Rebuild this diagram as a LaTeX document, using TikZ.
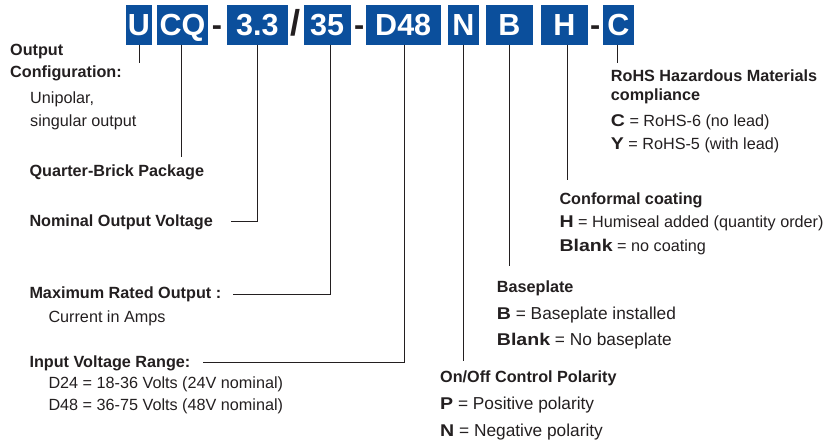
\documentclass[tikz,border=0pt]{standalone}
\usepackage{fontspec}
\setmainfont{Liberation Sans}
\newfontfamily\keyfont{Liberation Sans}[FakeStretch=1.15]
\usepackage{tikz}

\definecolor{codeblue}{HTML}{0B4F9C}
\definecolor{inktext}{HTML}{231F20}
\newcommand\optkey[1]{{\keyfont\bfseries\fontsize{17}{19}\selectfont #1}}
\tikzset{
	codebox/.style={fill=codeblue, text=white, font=\fontsize{30.5}{36}\selectfont\bfseries, inner sep=0pt, minimum height=39.2pt, text height=22pt, text depth=0pt},
	joiner/.style={text=inktext, font=\fontsize{30.5}{36}\selectfont\bfseries, inner sep=0pt, anchor=base},
	heading/.style={text=inktext, font=\fontsize{16.2}{19}\selectfont\bfseries, inner sep=0pt, anchor=base west},
	entry/.style={text=inktext, inner sep=0pt, anchor=base west},
	bigentry/.style={entry, font=\fontsize{17.3}{20}\selectfont},
	leader/.style={draw=inktext, line width=0.9pt}
}

\begin{document}
\begin{tikzpicture}[x=1pt, y=-1pt, font=\fontsize{16.2}{19}\selectfont]
		\useasboundingbox (0,0) rectangle (829,442);
		
		% Code boxes
		\foreach \name/\x/\w/\code in {bu/139/26.6/U, bcq/182.5/50.4/CQ, b33/257.3/60.7/3.3, b35/327.2/47/35, bd48/403.2/75/D48, bn/463.5/31.6/N, bb/509.3/46.7/B, bh/564.5/46.4/H, bc/618.5/30.4/C}
			\node[codebox, minimum width=\w] (\name) at (\x, 24.9) {\code};
		\node[joiner] (dash1) at (216.9, 35) {-};
		\node[joiner, font=\fontsize{36}{40}\selectfont\bfseries] (slash) at (295, 35) {/};
		\node[joiner] (dash2) at (359.2, 35) {-};
		\node[joiner] (dash3) at (595.2, 35) {-};
		
		% Left labels
		\node[heading] (outp) at (10, 55) {Output};
		\node[heading] (config) at (10, 77.7) {Configuration:};
		\node[entry] (unipolar) at (30, 103) {Unipolar,};
		\node[entry] (singular) at (30, 126) {singular output};
		\node[heading] (package) at (29.3, 176) {Quarter-Brick Package};
		\node[heading] (voltage) at (29.3, 226) {Nominal Output Voltage};
		\node[heading] (rated) at (29.3, 298.5) {Maximum Rated Output :};
		\node[entry] (amps) at (48.3, 322.7) {Current in Amps};
		\node[heading] (input) at (29.3, 367) {Input Voltage Range:};
		\node[entry] (d24) at (48.3, 388.5) {D24 = 18-36 Volts (24V nominal)};
		\node[entry] (d48) at (48.3, 410.7) {D48 = 36-75 Volts (48V nominal)};
		
		% Right labels
		\node[heading] (onoff) at (440, 382.7) {On/Off Control Polarity};
		\node[bigentry] (pos) at (440, 409.3) {\optkey{P} = Positive polarity};
		\node[bigentry] (neg) at (440, 436.7) {\optkey{N} = Negative polarity};
		\node[heading] (baseplate) at (496.7, 292.7) {Baseplate};
		\node[bigentry] (plate) at (496.7, 319) {\optkey{B} = Baseplate installed};
		\node[bigentry] (noplate) at (496.7, 345.7) {\optkey{Blank} = No baseplate};
		\node[heading] (coating) at (559.3, 204) {Conformal coating};
		\node[entry] (humiseal) at (559.3, 227.3) {\optkey{H} = Humiseal added (quantity order)};
		\node[entry] (nocoat) at (559.3, 251) {\optkey{Blank} = no coating};
		\node[heading] (rohs) at (610.7, 81.7) {RoHS Hazardous Materials};
		\node[heading] (compl) at (610.7, 100) {compliance};
		\node[entry] (rohs6) at (610.7, 126) {\optkey{C} = RoHS-6 (no lead)};
		\node[entry] (rohs5) at (610.7, 149.5) {\optkey{Y} = RoHS-5 (with lead)};
		
		% Leader ends
		\coordinate (u-end) at (139, 63.3);
		\coordinate (cq-end) at (181, 156.7);
		\coordinate (n-end) at (463.5, 360.7);
		\coordinate (b-end) at (509.3, 265.7);
		\coordinate (h-end) at (567.7, 180);
		\coordinate (c-end) at (617.3, 63.3);
		
		% Leaders
		\draw[leader] (bu.south) |- (u-end);
		\draw[leader] ([xshift=-1.5pt]bcq.south) |- (cq-end);
		\draw[leader] (b33.south) |- ([xshift=18pt]voltage.east);
		\draw[leader] ([xshift=3.5pt]b35.south) |- ([xshift=11.6pt]rated.east);
		\draw[leader] ([xshift=1.5pt]bd48.south) |- ([xshift=12.4pt]input.east);
		\draw[leader] (bn.south) |- (n-end);
		\draw[leader] (bb.south) |- (b-end);
		\draw[leader] ([xshift=3.2pt]bh.south) |- (h-end);
		\draw[leader] ([xshift=-1.2pt]bc.south) |- (c-end);
\end{tikzpicture}
\end{document}
